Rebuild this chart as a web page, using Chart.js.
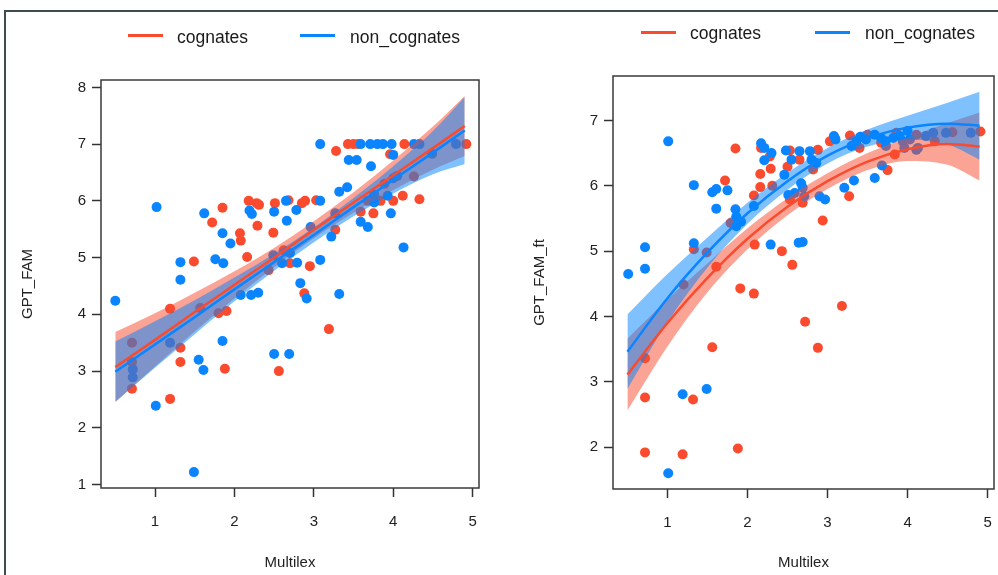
<!DOCTYPE html>
<html>
<head>
<meta charset="utf-8">
<script src="https://cdn.jsdelivr.net/npm/chart.js@4.4.1/dist/chart.umd.min.js"></script>
<style>
  html, body { margin: 0; padding: 0; background: #fff; }
  body { width: 998px; height: 575px; position: relative; overflow: hidden; font-family: "Liberation Sans", Arial, sans-serif; }
  .frame { position: absolute; left: 4px; top: 10px; width: 1000px; height: 600px; border-top: 2px solid #3e4c4c; border-left: 2px solid #3e4c4c; }
  canvas { position: absolute; top: 0; }
  #leftChart { left: 0; }
  #rightChart { left: 500px; }
  .swatch { position: absolute; height: 3px; width: 35px; }
  .lbl { position: absolute; font-size: 17.5px; line-height: 20px; color: #1a1a1a; white-space: nowrap; }
</style>
</head>
<body>
<div class="frame"></div>
<canvas id="leftChart" width="500" height="575"></canvas>
<canvas id="rightChart" width="540" height="575"></canvas>

<div class="swatch" style="left:128px;top:34px;background:#fb4b2f"></div>
<div class="lbl" style="left:177px;top:27px">cognates</div>
<div class="swatch" style="left:300px;top:34px;background:#0a85ff"></div>
<div class="lbl" style="left:350px;top:27px">non_cognates</div>

<div class="swatch" style="left:641px;top:31px;background:#fb4b2f"></div>
<div class="lbl" style="left:690px;top:23px">cognates</div>
<div class="swatch" style="left:815px;top:31px;background:#0a85ff"></div>
<div class="lbl" style="left:865px;top:23px">non_cognates</div>

<script>
const RED = "#fb4b2f";
const BLUE = "#0a85ff";
const RED_BAND = "rgba(248,73,45,0.5)";
const BLUE_BAND = "rgba(0,132,255,0.5)";

// tick labels
const xTicks = [1, 2, 3, 4, 5];
const leftYTicks = [1, 2, 3, 4, 5, 6, 7, 8];
const rightYTicks = [2, 3, 4, 5, 6, 7];

// left panel: GPT_FAM vs Multilex
const leftCogX = [0.71,0.71,0.71,1.19,1.19,1.32,1.32,1.49,1.57,1.72,1.80,1.85,1.88,1.90,2.07,2.08,2.16,2.18,2.28,2.31,2.29,2.43,2.49,2.51,2.56,2.62,2.68,2.70,2.85,2.89,2.88,2.95,3.03,3.19,3.27,3.28,3.43,3.50,3.56,3.59,3.68,3.75,3.84,3.89,3.96,4.00,4.12,4.14,4.26,4.33,4.92];
const leftCogY = [3.50,3.16,2.69,4.10,2.51,3.41,3.16,4.93,4.11,5.62,4.02,5.88,3.04,4.06,5.43,5.30,5.01,6.00,5.96,5.93,5.56,4.78,5.44,5.96,3.00,5.13,6.01,4.90,5.96,6.00,4.37,4.85,6.01,3.74,5.49,6.88,7.00,7.00,7.00,5.81,6.00,5.78,6.00,6.30,6.82,6.00,6.09,7.00,6.43,6.03,7.00];
const leftNonX = [0.50,0.72,0.72,1.01,1.02,1.19,1.32,1.32,1.49,1.55,1.61,1.62,1.76,1.85,1.85,1.86,1.95,2.08,2.19,2.22,2.21,2.30,2.49,2.50,2.50,2.60,2.65,2.66,2.69,2.70,2.78,2.79,2.83,2.91,2.96,3.08,3.08,3.08,3.22,3.27,3.32,3.32,3.42,3.44,3.54,3.59,3.59,3.68,3.71,3.72,3.76,3.76,3.80,3.87,3.93,3.97,3.98,4.00,4.00,4.05,4.13,4.26,4.33,4.49,4.79];
const leftNonY = [4.24,3.03,2.89,2.39,5.89,3.50,4.92,4.61,1.22,3.20,3.02,5.78,4.97,3.53,5.43,4.90,5.25,4.34,5.83,5.77,4.34,4.38,5.04,5.81,3.30,4.90,6.00,5.65,3.30,5.08,5.84,4.91,4.55,4.28,5.54,4.96,6.00,7.00,5.37,5.78,6.16,4.36,6.24,6.72,6.72,7.00,5.63,5.54,7.00,6.61,6.11,5.97,7.00,7.00,6.09,5.78,7.00,6.81,6.40,6.44,5.18,7.00,7.00,6.83,7.00];

// fitted lines and confidence bands, read at these x positions
const fitX = [0.5, 1, 1.5, 2, 2.5, 3, 3.5, 4, 4.5, 4.9];
const leftCogFit = [3.07,3.55,4.04,4.52,5.00,5.49,5.97,6.45,6.93,7.32];
const leftCogLo = [2.45,3.08,3.70,4.28,4.83,5.34,5.79,6.19,6.55,6.79];
const leftCogHi = [3.69,4.02,4.38,4.76,5.17,5.64,6.15,6.71,7.31,7.85];
const leftNonFit = [2.99,3.47,3.95,4.44,4.92,5.40,5.89,6.37,6.85,7.24];
const leftNonLo = [2.46,3.06,3.65,4.23,4.77,5.27,5.73,6.13,6.47,6.65];
const leftNonHi = [3.52,3.88,4.25,4.65,5.07,5.53,6.05,6.61,7.23,7.83];

// right panel: GPT_FAM_ft vs Multilex
const rightCogX = [0.72,0.72,0.72,1.19,1.20,1.32,1.33,1.49,1.56,1.61,1.72,1.79,1.85,1.88,1.91,2.08,2.08,2.09,2.16,2.16,2.17,2.28,2.29,2.31,2.43,2.50,2.53,2.53,2.56,2.65,2.69,2.72,2.82,2.88,2.88,2.94,3.03,3.09,3.18,3.27,3.28,3.40,3.50,3.67,3.75,3.84,3.86,4.11,4.34,4.56,4.91];
const rightCogY = [3.36,2.76,1.92,1.89,4.49,2.73,5.03,4.98,3.53,4.76,6.08,5.43,6.57,1.98,4.43,4.35,5.85,5.10,6.18,5.98,6.58,6.45,6.26,6.00,5.00,6.29,6.54,5.79,4.79,6.40,5.74,3.92,6.25,3.52,6.55,5.47,6.68,6.73,4.16,5.84,6.77,6.58,6.78,6.66,6.24,6.48,6.81,6.78,6.68,6.82,6.83];
const rightNonX = [0.51,0.72,0.72,1.01,1.01,1.19,1.33,1.33,1.49,1.56,1.61,1.61,1.75,1.85,1.86,1.86,1.92,2.08,2.17,2.21,2.21,2.29,2.30,2.46,2.48,2.51,2.55,2.59,2.64,2.65,2.67,2.69,2.69,2.71,2.78,2.80,2.86,2.90,2.97,3.08,3.10,3.21,3.30,3.33,3.36,3.41,3.48,3.59,3.59,3.67,3.68,3.73,3.73,3.82,3.90,3.94,3.96,4.00,4.03,4.11,4.13,4.23,4.32,4.48,4.79];
const rightNonY = [4.65,5.06,4.73,6.68,1.60,2.81,6.01,5.12,2.89,5.90,5.95,5.65,5.93,5.64,5.53,5.38,5.45,5.69,6.65,6.58,6.39,5.10,6.50,6.17,6.54,5.86,6.40,5.89,5.13,6.53,6.04,5.97,5.14,5.84,6.53,6.40,6.35,5.84,5.79,6.76,6.71,5.97,6.61,6.08,6.68,6.75,6.71,6.78,6.12,6.73,6.31,6.68,6.61,6.73,6.76,6.68,6.58,6.84,6.71,6.55,6.58,6.76,6.81,6.81,6.81];

const rightCogFit = [3.11,3.90,4.59,5.19,5.68,6.07,6.37,6.56,6.64,6.60];
const rightCogLo = [2.56,3.54,4.37,5.03,5.55,5.95,6.24,6.38,6.32,6.08];
const rightCogHi = [3.66,4.26,4.81,5.35,5.81,6.19,6.50,6.74,6.96,7.12];
const rightNonFit = [3.46,4.28,4.98,5.58,6.07,6.46,6.73,6.89,6.95,6.92];
const rightNonLo = [2.89,3.91,4.75,5.42,5.94,6.34,6.60,6.71,6.63,6.40];
const rightNonHi = [4.03,4.65,5.21,5.74,6.20,6.58,6.86,7.07,7.27,7.44];

const FONT = { family: "'Liberation Sans', Arial, sans-serif", size: 15 };

const pts = (xs, ys) => xs.map((x, i) => ({ x, y: ys[i] }));
const curve = ys => fitX.map((x, i) => ({ x, y: ys[i] }));

// box round the plot area, as in base R
const boxPlugin = {
  id: "plotBox",
  afterDraw(chart) {
    const { ctx, chartArea: a } = chart;
    ctx.save();
    ctx.strokeStyle = "#3a3a3a";
    ctx.lineWidth = 1.5;
    ctx.strokeRect(a.left, a.top, a.right - a.left, a.bottom - a.top);
    ctx.restore();
  }
};

function bandLine(data, fill, color, order) {
  return {
    type: "line", data, fill: fill ? "-1" : false, backgroundColor: color,
    borderColor: "transparent", borderWidth: 0, pointRadius: 0,
    cubicInterpolationMode: "monotone", order
  };
}

function fitLine(data, color, order) {
  return {
    type: "line", data, borderColor: color, borderWidth: 2.5, pointRadius: 0,
    fill: false, cubicInterpolationMode: "monotone", order
  };
}

function makePanel(id, cfg) {
  return new Chart(document.getElementById(id), {
    type: "scatter",
    data: {
      datasets: [
        { data: pts(cfg.cogX, cfg.cogY), backgroundColor: RED, pointRadius: 5, pointBorderWidth: 0, order: 6 },
        { data: pts(cfg.nonX, cfg.nonY), backgroundColor: BLUE, pointRadius: 5, pointBorderWidth: 0, order: 5 },
        bandLine(curve(cfg.cogLo), false, RED_BAND, 4),
        bandLine(curve(cfg.cogHi), true, RED_BAND, 4),
        bandLine(curve(cfg.nonLo), false, BLUE_BAND, 3),
        bandLine(curve(cfg.nonHi), true, BLUE_BAND, 3),
        fitLine(curve(cfg.nonFit), BLUE, 2),
        fitLine(curve(cfg.cogFit), RED, 1)
      ]
    },
    options: {
      responsive: false,
      animation: false,
      devicePixelRatio: 1,
      layout: { padding: { top: cfg.top, right: cfg.right, left: 0, bottom: 0 } },
      plugins: { legend: { display: false }, tooltip: { enabled: false } },
      scales: {
        x: {
          type: "linear", min: cfg.xMin, max: cfg.xMax,
          afterBuildTicks: s => { s.ticks = xTicks.map(v => ({ value: v })); },
          afterFit: s => { s.height = cfg.xH; },
          ticks: { font: FONT, color: "#222", padding: 16, maxRotation: 0 },
          grid: { drawOnChartArea: false, drawTicks: true, tickLength: 9, tickColor: "#333", tickWidth: 1.5 },
          border: { display: false },
          title: { display: true, text: "Multilex", font: FONT, color: "#222", padding: { top: 0, bottom: 3 } }
        },
        y: {
          type: "linear", min: cfg.yMin, max: cfg.yMax,
          afterBuildTicks: s => { s.ticks = cfg.yTicks.map(v => ({ value: v })); },
          afterFit: s => { s.width = cfg.yW; },
          ticks: { font: FONT, color: "#222", padding: 6 },
          grid: { drawOnChartArea: false, drawTicks: true, tickLength: 9, tickColor: "#333", tickWidth: 1.5 },
          border: { display: false },
          title: { display: true, text: cfg.yTitle, font: FONT, color: "#222", padding: { top: cfg.titlePad, bottom: 0 } }
        }
      }
    },
    plugins: [boxPlugin]
  });
}

makePanel("leftChart", {
  cogX: leftCogX, cogY: leftCogY, nonX: leftNonX, nonY: leftNonY,
  cogFit: leftCogFit, cogLo: leftCogLo, cogHi: leftCogHi,
  nonFit: leftNonFit, nonLo: leftNonLo, nonHi: leftNonHi,
  xMin: 0.32, xMax: 5.08, yMin: 0.94, yMax: 8.13, yTicks: leftYTicks,
  top: 80, right: 21, xH: 87, yW: 101, titlePad: 19, yTitle: "GPT_FAM"
});

// canvas runs past the page edge so the tick-label padding does not squeeze the plot
makePanel("rightChart", {
  cogX: rightCogX, cogY: rightCogY, nonX: rightNonX, nonY: rightNonY,
  cogFit: rightCogFit, cogLo: rightCogLo, cogHi: rightCogHi,
  nonFit: rightNonFit, nonLo: rightNonLo, nonHi: rightNonHi,
  xMin: 0.32, xMax: 5.08, yMin: 1.36, yMax: 7.68, yTicks: rightYTicks,
  top: 76, right: 46, xH: 86, yW: 113, titlePad: 31, yTitle: "GPT_FAM_ft"
});
</script>
</body>
</html>
